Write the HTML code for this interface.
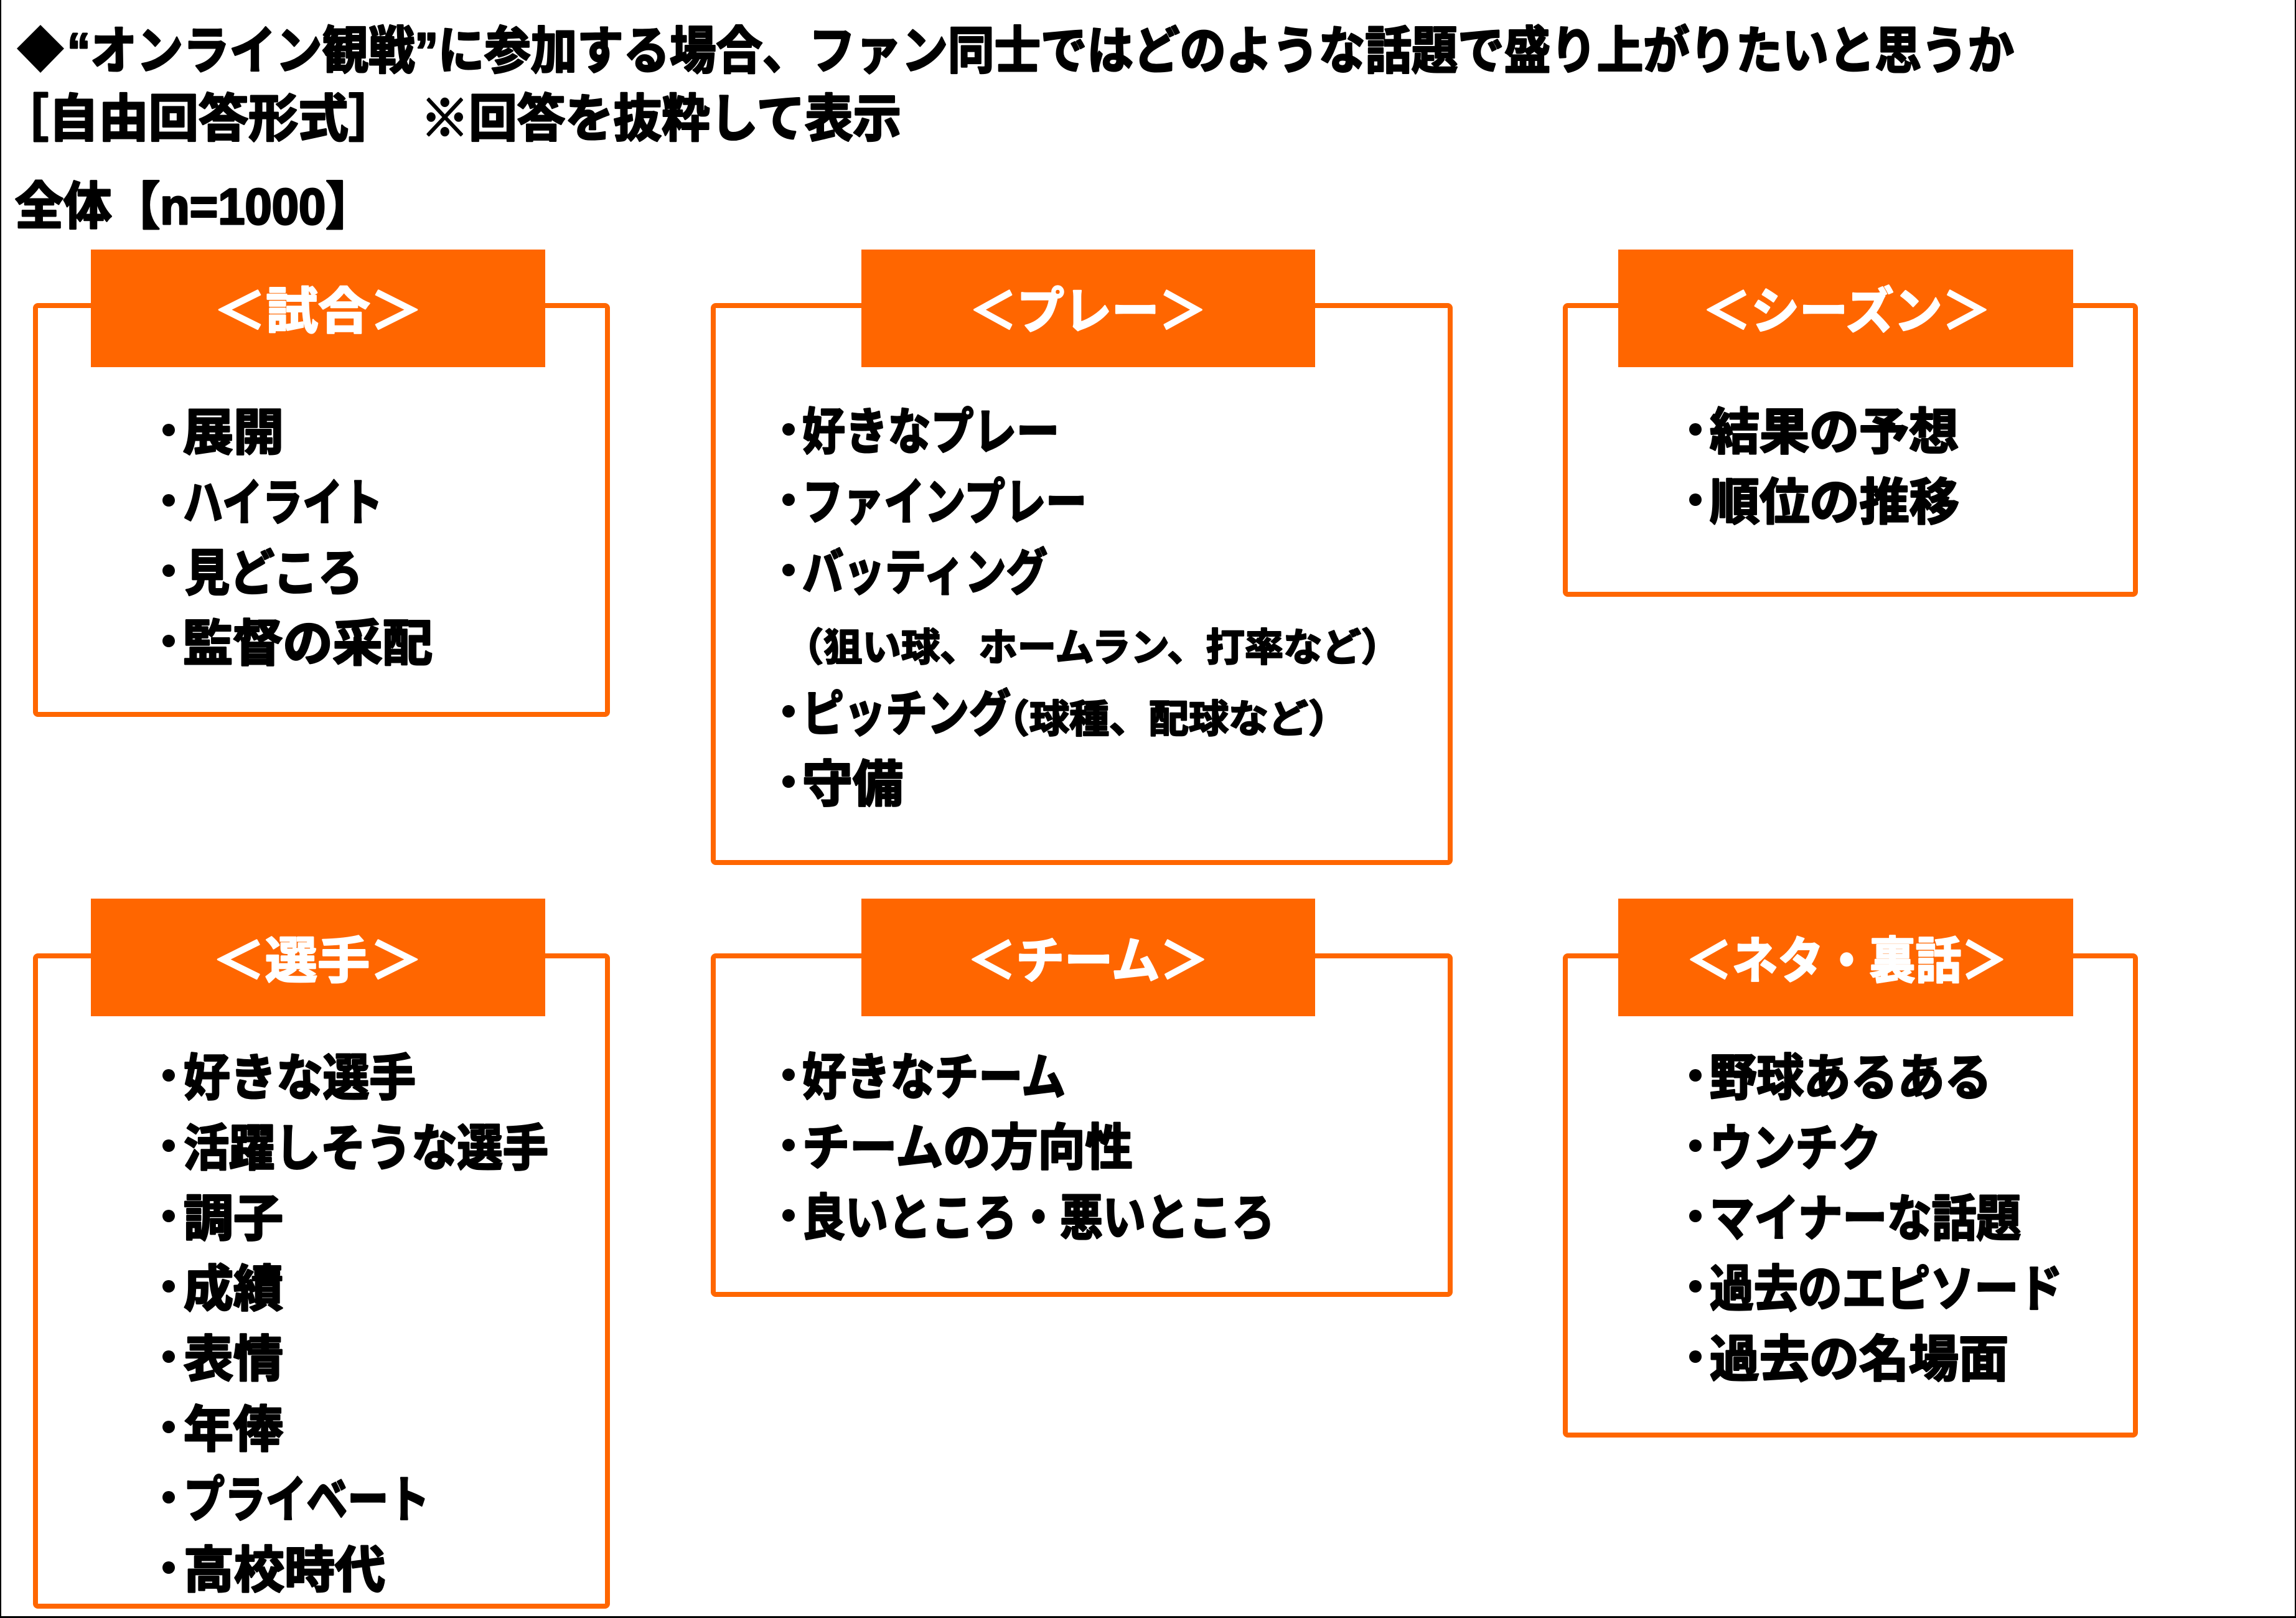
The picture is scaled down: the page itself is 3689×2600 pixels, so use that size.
<!DOCTYPE html>
<html lang="ja">
<head>
<meta charset="utf-8">
<style>
html,body{margin:0;padding:0;background:#fff;}
svg{display:block;}
text{font-family:"Liberation Sans","Noto Sans CJK JP",sans-serif;font-weight:bold;stroke-linejoin:round;}
.t{fill:#000;font-size:82px;stroke:#000;stroke-width:3;}
.i{fill:#000;font-size:80px;stroke:#000;stroke-width:3;}
.s{fill:#000;font-size:62px;stroke:#000;stroke-width:2.5;}
.h{fill:#fff;font-size:80px;stroke:#fff;stroke-width:2.5;}
.box{fill:#fff;stroke:#FF6600;stroke-width:8;}
.hd{fill:#FF6600;}
</style>
</head>
<body>
<svg width="3689" height="2600" viewBox="0 0 3689 2600" xmlns="http://www.w3.org/2000/svg">
<rect x="0" y="0" width="3689" height="2600" fill="#fff"/>
<!-- frame -->
<rect x="0" y="0" width="2" height="2600" fill="#000"/>
<rect x="3687" y="0" width="2" height="2600" fill="#000"/>
<rect x="0" y="2597" width="3689" height="3" fill="#000"/>

<!-- Title -->
<polygon points="65,40 103,78 65,117 27,78" fill="#000"/>
<text class="t" x="108" y="110" textLength="3128" lengthAdjust="spacingAndGlyphs">“オンライン観戦”に参加する場合、ファン同士ではどのような話題で盛り上がりたいと思うか</text>
<text class="t" x="-2" y="219" textLength="642" lengthAdjust="spacingAndGlyphs">［自由回答形式］</text>
<text class="t" x="676" y="219" textLength="772" lengthAdjust="spacingAndGlyphs">※回答を抜粋して表示</text>
<text class="t" x="24" y="360" textLength="577" lengthAdjust="spacingAndGlyphs">全体【n=1000】</text>

<!-- Box 1: 試合 -->
<rect class="box" x="57" y="491" width="919" height="657" rx="4"/>
<rect class="hd" x="146" y="401" width="730" height="189"/>
<text class="h" x="511" y="528" text-anchor="middle" textLength="335" lengthAdjust="spacingAndGlyphs">＜試合＞</text>
<g>
<circle cx="271" cy="691" r="10"/><text class="i" x="294" y="723" textLength="162" lengthAdjust="spacingAndGlyphs">展開</text>
<circle cx="271" cy="804" r="10"/><text class="i" x="294" y="836" textLength="321" lengthAdjust="spacingAndGlyphs">ハイライト</text>
<circle cx="271" cy="917" r="10"/><text class="i" x="297" y="949" textLength="286" lengthAdjust="spacingAndGlyphs">見どころ</text>
<circle cx="271" cy="1030" r="10"/><text class="i" x="294" y="1062" textLength="401" lengthAdjust="spacingAndGlyphs">監督の采配</text>
</g>

<!-- Box 2: プレー -->
<rect class="box" x="1146" y="491" width="1184" height="895" rx="4"/>
<rect class="hd" x="1384" y="401" width="729" height="189"/>
<text class="h" x="1748" y="528" text-anchor="middle" textLength="381" lengthAdjust="spacingAndGlyphs">＜プレー＞</text>
<g>
<circle cx="1267" cy="690" r="10"/><text class="i" x="1289" y="722" textLength="413" lengthAdjust="spacingAndGlyphs">好きなプレー</text>
<circle cx="1267" cy="803" r="10"/><text class="i" x="1289" y="835" textLength="457" lengthAdjust="spacingAndGlyphs">ファインプレー</text>
<circle cx="1267" cy="916" r="10"/><text class="i" x="1289" y="948" textLength="394" lengthAdjust="spacingAndGlyphs">バッティング</text>
<text class="s" x="1261" y="1062" textLength="988" lengthAdjust="spacingAndGlyphs">（狙い球、ホームラン、打率など）</text>
<circle cx="1267" cy="1143" r="10"/><text class="i" x="1289" y="1175" textLength="335" lengthAdjust="spacingAndGlyphs">ピッチング</text>
<text class="s" x="1590" y="1177" textLength="576" lengthAdjust="spacingAndGlyphs">（球種、配球など）</text>
<circle cx="1267" cy="1256" r="10"/><text class="i" x="1289" y="1288" textLength="162" lengthAdjust="spacingAndGlyphs">守備</text>
</g>

<!-- Box 3: シーズン -->
<rect class="box" x="2515" y="491" width="916" height="464" rx="4"/>
<rect class="hd" x="2600" y="401" width="731" height="189"/>
<text class="h" x="2967" y="528" text-anchor="middle" textLength="463" lengthAdjust="spacingAndGlyphs">＜シーズン＞</text>
<g>
<circle cx="2724" cy="690" r="10"/><text class="i" x="2747" y="722" textLength="400" lengthAdjust="spacingAndGlyphs">結果の予想</text>
<circle cx="2724" cy="803" r="10"/><text class="i" x="2747" y="835" textLength="401" lengthAdjust="spacingAndGlyphs">順位の推移</text>
</g>

<!-- Box 4: 選手 -->
<rect class="box" x="57" y="1536" width="919" height="1045" rx="4"/>
<rect class="hd" x="146" y="1444" width="730" height="189"/>
<text class="h" x="510" y="1572" text-anchor="middle" textLength="337" lengthAdjust="spacingAndGlyphs">＜選手＞</text>
<g>
<circle cx="271" cy="1728" r="10"/><text class="i" x="295" y="1760" textLength="373" lengthAdjust="spacingAndGlyphs">好きな選手</text>
<circle cx="271" cy="1841" r="10"/><text class="i" x="295" y="1873" textLength="586" lengthAdjust="spacingAndGlyphs">活躍しそうな選手</text>
<circle cx="271" cy="1954" r="10"/><text class="i" x="295" y="1986" textLength="160" lengthAdjust="spacingAndGlyphs">調子</text>
<circle cx="271" cy="2067" r="10"/><text class="i" x="295" y="2099" textLength="160" lengthAdjust="spacingAndGlyphs">成績</text>
<circle cx="271" cy="2180" r="10"/><text class="i" x="295" y="2212" textLength="160" lengthAdjust="spacingAndGlyphs">表情</text>
<circle cx="271" cy="2293" r="10"/><text class="i" x="295" y="2325" textLength="160" lengthAdjust="spacingAndGlyphs">年俸</text>
<circle cx="271" cy="2406" r="10"/><text class="i" x="295" y="2438" textLength="395" lengthAdjust="spacingAndGlyphs">プライベート</text>
<circle cx="271" cy="2519" r="10"/><text class="i" x="295" y="2551" textLength="324" lengthAdjust="spacingAndGlyphs">高校時代</text>
</g>

<!-- Box 5: チーム -->
<rect class="box" x="1146" y="1536" width="1184" height="544" rx="4"/>
<rect class="hd" x="1384" y="1444" width="729" height="189"/>
<text class="h" x="1748" y="1572" text-anchor="middle" textLength="387" lengthAdjust="spacingAndGlyphs">＜チーム＞</text>
<g>
<circle cx="1267" cy="1727" r="10"/><text class="i" x="1289" y="1759" textLength="423" lengthAdjust="spacingAndGlyphs">好きなチーム</text>
<circle cx="1267" cy="1840" r="10"/><text class="i" x="1289" y="1872" textLength="531" lengthAdjust="spacingAndGlyphs">チームの方向性</text>
<circle cx="1267" cy="1953" r="10"/><text class="i" x="1289" y="1985" textLength="759" lengthAdjust="spacingAndGlyphs">良いところ・悪いところ</text>
</g>

<!-- Box 6: ネタ・裏話 -->
<rect class="box" x="2515" y="1536" width="916" height="770" rx="4"/>
<rect class="hd" x="2600" y="1444" width="731" height="189"/>
<text class="h" x="2967" y="1572" text-anchor="middle" textLength="516" lengthAdjust="spacingAndGlyphs">＜ネタ・裏話＞</text>
<g>
<circle cx="2724" cy="1728" r="10"/><text class="i" x="2747" y="1760" textLength="453" lengthAdjust="spacingAndGlyphs">野球あるある</text>
<circle cx="2724" cy="1841" r="10"/><text class="i" x="2747" y="1873" textLength="275" lengthAdjust="spacingAndGlyphs">ウンチク</text>
<circle cx="2724" cy="1954" r="10"/><text class="i" x="2747" y="1986" textLength="500" lengthAdjust="spacingAndGlyphs">マイナーな話題</text>
<circle cx="2724" cy="2067" r="10"/><text class="i" x="2747" y="2099" textLength="567" lengthAdjust="spacingAndGlyphs">過去のエピソード</text>
<circle cx="2724" cy="2180" r="10"/><text class="i" x="2747" y="2212" textLength="480" lengthAdjust="spacingAndGlyphs">過去の名場面</text>
</g>
</svg>
</body>
</html>
